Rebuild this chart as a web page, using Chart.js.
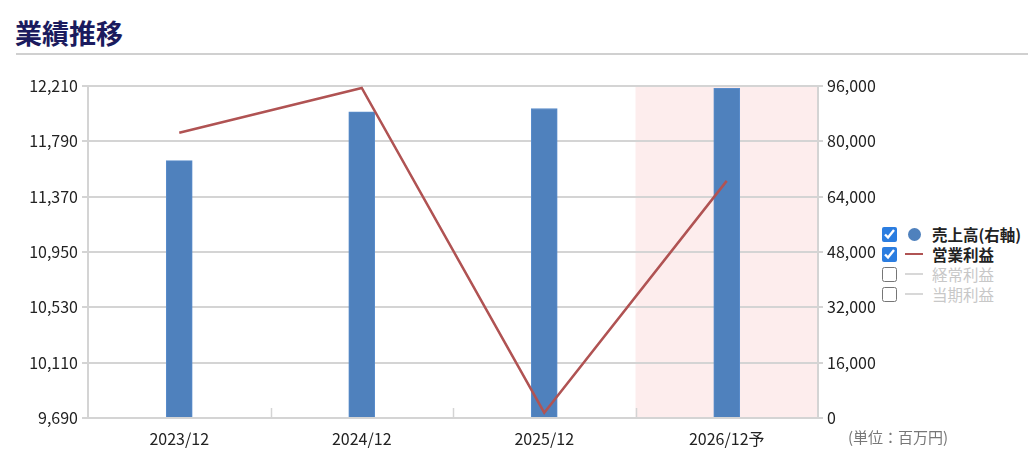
<!DOCTYPE html>
<html lang="ja">
<head>
<meta charset="utf-8">
<script src="https://cdn.jsdelivr.net/npm/chart.js@4.4.1/dist/chart.umd.min.js"></script>
<style>
    body { margin: 0; width: 1028px; height: 476px; background: #fff; overflow: hidden; position: relative;
           font-family: "Noto Sans CJK JP", "Noto Sans", sans-serif; }
    h2 { position: absolute; left: 15px; top: 17px; margin: 0; font-size: 27px; line-height: 32px; color: #1b1b5e; font-weight: bold; }
    .rule { position: absolute; left: 16px; right: 0; top: 53px; height: 2px; background: #d0d0d0; }
    #wrap { position: absolute; left: 0; top: 60px; width: 880px; height: 400px; }
    .legend { position: absolute; left: 880px; top: 224px; font-size: 15.5px; line-height: 20px; }
    .legend > div { display: flex; align-items: center; height: 20px; }
    .legend input { width: 15px; height: 15px; margin: 0 8px 0 2px; accent-color: #2b7de0; flex-shrink: 0; }
    .legend .sym { width: 18px; height: 20px; margin-right: 9px; display: flex; align-items: center; justify-content: center; flex-shrink: 0; }
    .dot { width: 13px; height: 13px; border-radius: 50%; background: #4f81bd; }
    .dash { width: 18px; height: 2px; background: #b05353; }
    .off .dash { background: #d8d8d8; }
    .on span { font-weight: bold; color: #222; }
    .off span { color: #c8c8c8; }
    .unit { position: absolute; left: 848px; top: 426px; font-size: 15px; color: #777; }
</style>
</head>
<body>
<h2>業績推移</h2>
<div class="rule"></div>
<div id="wrap"><canvas id="perfChart"></canvas></div>
<div class="legend">
    <div class="on"><input type="checkbox" checked><div class="sym"><div class="dot"></div></div><span>売上高(右軸)</span></div>
    <div class="on"><input type="checkbox" checked><div class="sym"><div class="dash"></div></div><span>営業利益</span></div>
    <div class="off"><input type="checkbox"><div class="sym"><div class="dash"></div></div><span>経常利益</span></div>
    <div class="off"><input type="checkbox"><div class="sym"><div class="dash"></div></div><span>当期利益</span></div>
</div>
<div class="unit">(単位：百万円)</div>
<script>
// 決算期
const periods = ['2023/12', '2024/12', '2025/12', '2026/12予'];
// 売上高 (右軸, 百万円)
const sales = [74400, 88500, 89500, 95300];
// 営業利益 (左軸, 百万円)
const operatingProfit = [11855, 12195, 9730, 11490];
// 軸の目盛り
const leftTicks = [9690, 10110, 10530, 10950, 11370, 11790, 12210];
const rightTicks = [0, 16000, 32000, 48000, 64000, 80000, 96000];

const gridColor = '#d4d4d4';
const tickFont = { family: '"Noto Sans CJK JP"', size: 16 };

// forecast column background + inward tick marks at category boundaries
const forecastBand = {
    id: 'forecastBand',
    beforeDraw(chart) {
        const { ctx, chartArea, scales } = chart;
        const x = scales.x;
        const half = (x.getPixelForValue(1) - x.getPixelForValue(0)) / 2;
        const cx = x.getPixelForValue(periods.length - 1);
        ctx.save();
        ctx.fillStyle = '#fdeded';
        ctx.fillRect(cx - half, chartArea.top, chartArea.right - (cx - half), chartArea.bottom - chartArea.top);
        ctx.restore();
    },
    afterDraw(chart) {
        const { ctx, chartArea, scales } = chart;
        const x = scales.x;
        const half = (x.getPixelForValue(1) - x.getPixelForValue(0)) / 2;
        ctx.save();
        ctx.strokeStyle = gridColor;
        ctx.lineWidth = 1.5;
        for (let i = 0; i < periods.length - 1; i++) {
            const px = Math.round(x.getPixelForValue(i) + half) + 0.5;
            ctx.beginPath();
            ctx.moveTo(px, chartArea.bottom);
            ctx.lineTo(px, chartArea.bottom - 10);
            ctx.stroke();
        }
        ctx.restore();
    }
};

const perfCtx = document.getElementById('perfChart').getContext('2d');
const perfChart = new Chart(perfCtx, {
    type: 'bar',
    data: {
        labels: periods,
        datasets: [{
            type: 'line',
            label: '営業利益',
            data: operatingProfit,
            yAxisID: 'yLeft',
            borderColor: '#b05353',
            borderWidth: 2.5,
            pointRadius: 0,
            tension: 0,
            order: 0
        }, {
            type: 'bar',
            label: '売上高(右軸)',
            data: sales,
            yAxisID: 'yRight',
            backgroundColor: '#4f81bd',
            borderColor: '#5a8ccb',
            borderWidth: 1,
            barThickness: 26,
            order: 1
        }]
    },
    options: {
        responsive: true,
        maintainAspectRatio: false,
        animation: false,
        layout: { padding: { top: 26, bottom: 0, left: 0, right: 0 } },
        plugins: {
            legend: { display: false },
            tooltip: { enabled: false }
        },
        scales: {
            x: {
                grid: { display: false },
                border: { display: true, color: gridColor, width: 2 },
                ticks: { color: '#222', font: tickFont, padding: 3 },
                afterFit(scale) { scale.height = 42; }
            },
            yLeft: {
                position: 'left',
                min: leftTicks[0],
                max: leftTicks[leftTicks.length - 1],
                afterBuildTicks(scale) { scale.ticks = leftTicks.map(v => ({ value: v })); },
                grid: { color: gridColor, lineWidth: 2, tickLength: 6 },
                border: { color: gridColor, width: 2 },
                ticks: {
                    color: '#222',
                    font: tickFont,
                    padding: 4,
                    callback: v => v.toLocaleString('en-US')
                },
                afterFit(scale) { scale.width = 88; }
            },
            yRight: {
                position: 'right',
                min: rightTicks[0],
                max: rightTicks[rightTicks.length - 1],
                afterBuildTicks(scale) { scale.ticks = rightTicks.map(v => ({ value: v })); },
                grid: { drawOnChartArea: false, color: gridColor, lineWidth: 2, tickLength: 5 },
                border: { color: gridColor, width: 2 },
                ticks: {
                    color: '#222',
                    font: tickFont,
                    padding: 4,
                    callback: v => v.toLocaleString('en-US')
                },
                afterFit(scale) { scale.width = 62; }
            }
        }
    },
    plugins: [forecastBand]
});
</script>
</body>
</html>
